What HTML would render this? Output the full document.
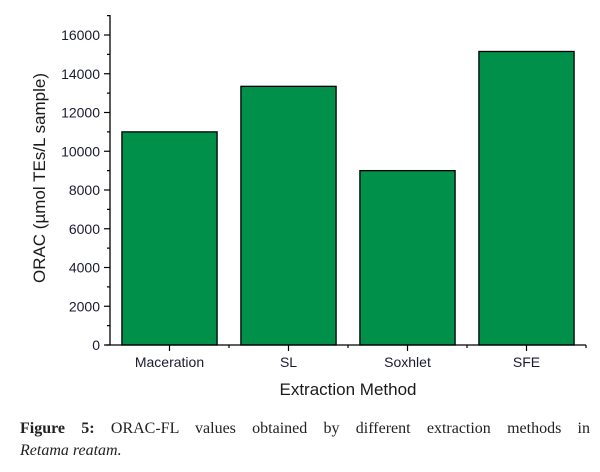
<!DOCTYPE html>
<html><head><meta charset="utf-8"><style>
body{margin:0;background:#fff;width:600px;height:472px;overflow:hidden}
svg{display:block}
.cap{position:absolute;left:20px;top:418px;width:570px;font-family:"Liberation Serif",serif;font-size:16px;color:#222;line-height:21px;text-align:justify;text-align-last:justify}
.cap2{position:absolute;left:20px;top:442px;font-family:"Liberation Serif",serif;font-size:16px;color:#222;font-style:italic}
</style></head><body>
<svg id="chart" width="600" height="410"></svg>
<div class="cap"><b>Figure 5:</b> ORAC-FL values obtained by different extraction methods in</div>
<div class="cap2">Retama reatam.</div>
<script>
const categories=["Maceration","SL","Soxhlet","SFE"];
const values=[11000,13350,9000,15150];
const yTicks=[0,2000,4000,6000,8000,10000,12000,14000,16000];
const NS="http://www.w3.org/2000/svg";
const svg=document.getElementById("chart");
const X0=110,X1=586,Y0=345,YT=15;
const yScale=v=>Y0-v*(155/8000);
const band=(X1-X0)/categories.length;
const xCenter=i=>X0+band*(i+0.5);
function mk(t,a,txt){const e=document.createElementNS(NS,t);for(const k in a)e.setAttribute(k,a[k]);if(txt!=null)e.textContent=txt;svg.appendChild(e);return e;}
categories.forEach((c,i)=>{
  const y=yScale(values[i]);
  const r=mk("rect",{x:xCenter(i)-band*0.4,y:y,width:band*0.8,height:Y0-y,fill:"#00904a",stroke:"#000","stroke-width":1.3});
  
  
  const t=mk("text",{x:xCenter(i),y:Y0+22,"text-anchor":"middle","font-family":"Liberation Sans, sans-serif","font-size":14,fill:"#1a1a33"},c);
  
  
  mk("line",{x1:xCenter(i),x2:xCenter(i),y1:Y0,y2:Y0+6,stroke:"#000","stroke-width":1.2});
  mk("line",{x1:X0+band*(i+1),x2:X0+band*(i+1),y1:Y0,y2:Y0+3,stroke:"#000","stroke-width":1.2});
});
mk("line",{x1:X0,x2:X0,y1:YT,y2:Y0,stroke:"#000","stroke-width":1.3});
mk("line",{x1:X0-4,x2:X1,y1:Y0,y2:Y0,stroke:"#000","stroke-width":1.3});
yTicks.forEach(v=>{
  const y=yScale(v);
  mk("line",{x1:X0-6,x2:X0,y1:y,y2:y,stroke:"#000","stroke-width":1.2});
  mk("line",{x1:X0-3,x2:X0,y1:yScale(v+1000),y2:yScale(v+1000),stroke:"#000","stroke-width":1.2});
  const t=mk("text",{x:X0-10,y:y+5,"text-anchor":"end","font-family":"Liberation Sans, sans-serif","font-size":14,fill:"#1a1a33"},v);
  
  
});
const xt=mk("text",{x:(X0+X1)/2,y:395,"text-anchor":"middle","font-family":"Liberation Sans, sans-serif","font-size":17,fill:"#1a1a1a"},"Extraction Method");


const yt=mk("text",{x:0,y:0,transform:"translate(45,"+((Y0+YT)/2-2)+") rotate(-90)","text-anchor":"middle","font-family":"Liberation Sans, sans-serif","font-size":17,fill:"#1a1a1a"},"ORAC  (µmol TEs/L sample)");


</script>
</body></html>
